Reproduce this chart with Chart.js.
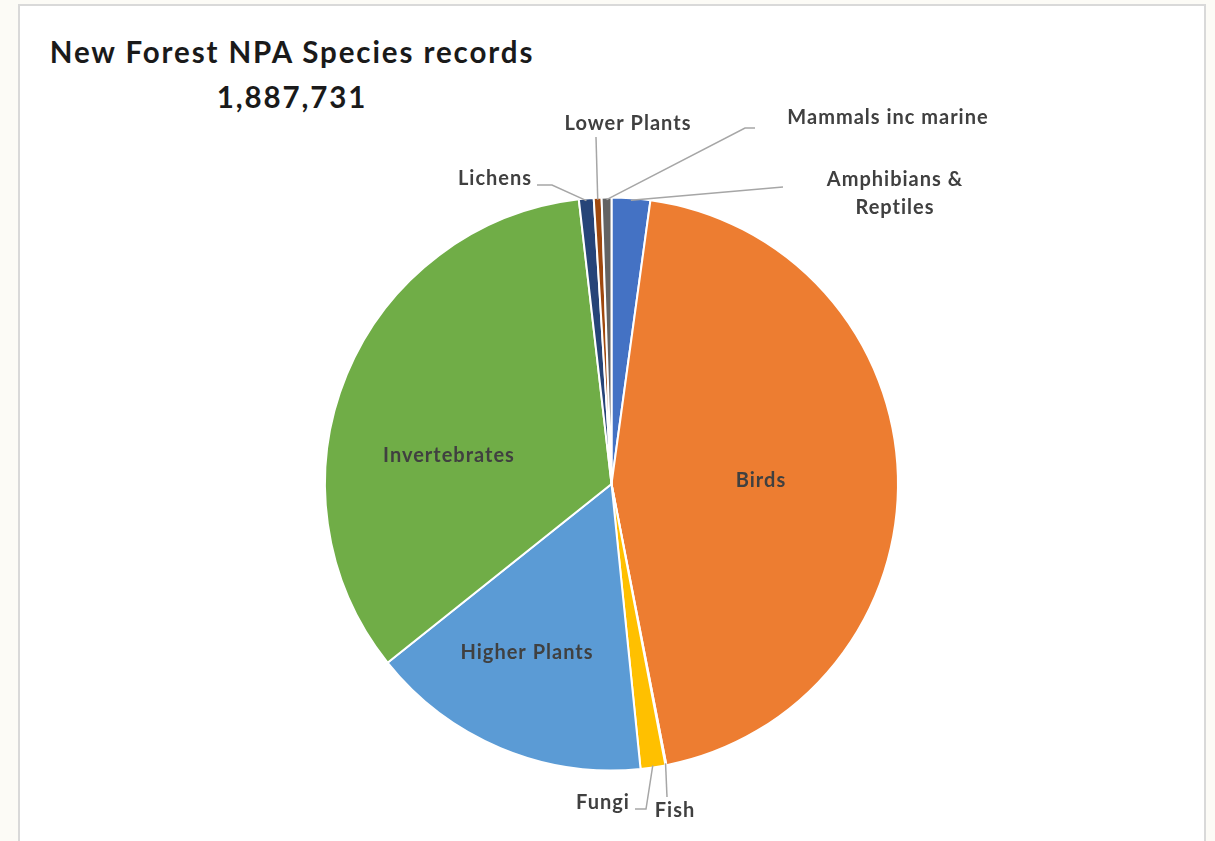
<!DOCTYPE html>
<html>
<head>
<meta charset="utf-8">
<script src="https://cdn.jsdelivr.net/npm/chart.js@4.4.1/dist/chart.umd.min.js"></script>
<style>
  html, body { margin: 0; padding: 0; background: #fcfbf6; }
  #frame {
    position: absolute; left: 18px; top: 4px; width: 1184px; height: 860px;
    border: 2px solid #d9d9d9; background: #ffffff;
  }
  #wrap { position: absolute; left: 0; top: 0; width: 1215px; height: 841px; }
  .title {
    position: absolute; left: 0; width: 584px; text-align: center;
    font-family: Lato, "Open Sans", sans-serif; font-weight: bold; color: #1a1a1a;
    font-size: 29.5px; letter-spacing: 1.9px;
  }
</style>
</head>
<body>
<div id="frame"></div>
<div class="title" style="top:34px;">New Forest NPA Species records</div>
<div class="title" style="top:79px;">1,887,731</div>
<div id="wrap"><canvas id="pie" width="1215" height="841"></canvas></div>
<script>
console.log("pie start");

// species groups, alphabetical as in the source sheet
const categories = [
  'Amphibians & Reptiles', 'Birds', 'Fish', 'Fungi', 'Higher Plants',
  'Invertebrates', 'Lichens', 'Lower Plants', 'Mammals inc marine'
];
// number of records per group (total 1,887,731)
const records = [41000, 844931, 1000, 26400, 300150, 639900, 15670, 8300, 10380];
const colours = ['#4472c4', '#ed7d31', '#a5a5a5', '#ffc000', '#5b9bd5',
                 '#70ad47', '#264478', '#9e480e', '#636363'];

// where each data label sits (text lines, anchor point, optional leader elbows)
const labelLayout = {
  'Amphibians & Reptiles': { lines: ['Amphibians &', 'Reptiles'], x: 895, y: 180, lead: [[783, 187]] },
  'Birds':                 { lines: ['Birds'], x: 761, y: 481 },
  'Fish':                  { lines: ['Fish'], x: 675, y: 811, lead: [[667, 797]] },
  'Fungi':                 { lines: ['Fungi'], x: 603, y: 803, lead: [[635, 809], [646, 809]] },
  'Higher Plants':         { lines: ['Higher Plants'], x: 527, y: 653 },
  'Invertebrates':         { lines: ['Invertebrates'], x: 449, y: 456 },
  'Lichens':               { lines: ['Lichens'], x: 495, y: 179, lead: [[537, 185], [552, 185]] },
  'Lower Plants':          { lines: ['Lower Plants'], x: 628, y: 124, lead: [[596, 137]] },
  'Mammals inc marine':    { lines: ['Mammals inc marine'], x: 888, y: 118, lead: [[755, 128], [745, 128]] }
};

const dataLabels = {
  id: 'dataLabels',
  afterDatasetsDraw(chart) {
    const ctx = chart.ctx;
    const arcs = chart.getDatasetMeta(0).data;
    ctx.save();
    ctx.font = 'bold 20px Lato, "Open Sans", sans-serif';
    ctx.letterSpacing = '1px';
    ctx.textAlign = 'center';
    ctx.textBaseline = 'middle';
    arcs.forEach((arc, i) => {
      const lay = labelLayout[categories[i]];
      if (!lay) return;
      const p = arc.getProps(['x', 'y', 'startAngle', 'endAngle', 'outerRadius'], true);
      if (lay.lead) {
        const mid = (p.startAngle + p.endAngle) / 2;
        const ex = p.x + Math.cos(mid) * (p.outerRadius - 2);
        const ey = p.y + Math.sin(mid) * (p.outerRadius - 2);
        ctx.strokeStyle = '#a6a6a6';
        ctx.lineWidth = 1.5;
        ctx.beginPath();
        ctx.moveTo(lay.lead[0][0], lay.lead[0][1]);
        lay.lead.slice(1).forEach(pt => ctx.lineTo(pt[0], pt[1]));
        ctx.lineTo(ex, ey);
        ctx.stroke();
      }
      ctx.fillStyle = '#404040';
      lay.lines.forEach((t, k) => ctx.fillText(t, lay.x, lay.y + k * 28));
    });
    ctx.restore();
  }
};

const ctx = document.getElementById('pie').getContext('2d');
new Chart(ctx, {
  type: 'pie',
  data: {
    labels: categories,
    datasets: [{
      data: records,
      backgroundColor: colours,
      borderColor: '#ffffff',
      borderWidth: 2
    }]
  },
  options: {
    responsive: false,
    animation: false,
    layout: { padding: { left: 324, right: 316, top: 196, bottom: 69 } },
    plugins: {
      legend: { display: false },
      tooltip: { enabled: false }
    }
  },
  plugins: [dataLabels]
});
</script>
</body>
</html>
